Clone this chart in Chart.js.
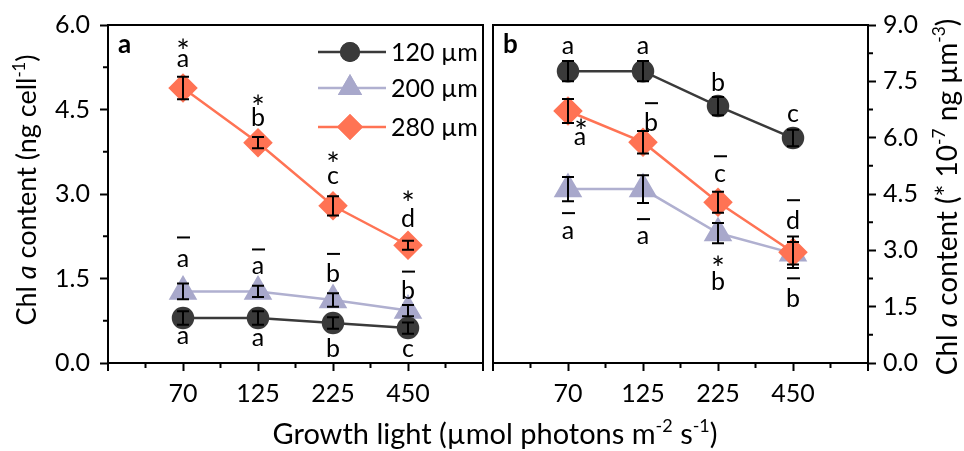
<!DOCTYPE html>
<html><head><meta charset="utf-8">
<script src="https://cdn.jsdelivr.net/npm/chart.js@4/dist/chart.umd.min.js"></script>
<style>
html,body{margin:0;padding:0;background:#fff;}
#wrap{position:relative;width:964px;height:451px;background:#fff;}
canvas{position:absolute;left:0;top:0;}
</style></head><body>
<div id="wrap"><canvas id="ca" width="964" height="451"></canvas><canvas id="cb" width="964" height="451"></canvas></div>
<script>
// ---------------- data ----------------
const categories = ['70', '125', '225', '450'];
const seriesNames = ['120 µm', '200 µm', '280 µm'];
const yTicksA = [0, 1.5, 3.0, 4.5, 6.0];
const yTicksB = [0, 1.5, 3.0, 4.5, 6.0, 7.5, 9.0];

// panel a: Chl a content (ng cell-1)
const a120 = [0.80, 0.80, 0.71, 0.62];
const a200 = [1.27, 1.27, 1.12, 0.93];
const a280 = [4.88, 3.91, 2.79, 2.09];
const a120Err = [0.12, 0.12, 0.10, 0.10];
const a200Err = [0.14, 0.10, 0.12, 0.10];
const a280Err = [0.20, 0.10, 0.17, 0.08];

// panel b: Chl a content (* 10^-7 ng µm-3)
const b120 = [7.77, 7.77, 6.84, 5.99];
const b200 = [4.63, 4.63, 3.46, 2.92];
const b280 = [6.71, 5.88, 4.28, 2.95];
const b120Err = [0.27, 0.27, 0.24, 0.22];
const b200Err = [0.32, 0.37, 0.27, 0.30];
const b280Err = [0.32, 0.30, 0.28, 0.42];

// significance letters
const a120Letters = ['a', 'a', 'b', 'c'];
const a200Letters = ['a', 'a', 'b', 'b'];
const a280Letters = ['a', 'b', 'c', 'd'];
const b120Letters = ['a', 'a', 'b', 'c'];
const b200Letters = ['a', 'a', 'b', 'b'];
const b280Letters = ['a', 'b', 'c', 'd'];

// ---------------- styles ----------------
const FONT = 'Lato, "Open Sans", sans-serif';
const C120 = '#3a3a3a', C200 = '#a8a8cb', C280 = '#ff7354';
const L200 = '#b0b0d0';

// annotation layout: [datasetIndex, pointIndex, kind, dx, dy] (pixel offsets from point)
const annotLayoutA = [
  [2,0,'star',0,-45],[2,0,'letter',0,-28],
  [2,1,'star',0,-43],[2,1,'letter',0,-26],
  [2,2,'star',0,-49],[2,2,'letter',0,-28],
  [2,3,'star',0,-50],[2,3,'letter',0,-28],
  [1,0,'dash',0,-54],[1,0,'letter',0,-31],
  [1,1,'dash',0,-42],[1,1,'letter',0,-24],
  [1,2,'dash',0,-46],[1,2,'letter',0,-27],
  [1,3,'dash',0,-39],[1,3,'letter',0,-21],
  [0,0,'letter',0,20],[0,1,'letter',0,22],[0,2,'letter',0,24],[0,3,'letter',0,22]
];
const annotLayoutB = [
  [0,0,'letter',0,-24],[0,1,'letter',0,-24],[0,2,'letter',0,-25],[0,3,'letter',0,-23],
  [2,0,'star',13,12],[2,0,'letter',12,27],
  [2,1,'dash',8,-39],[2,1,'letter',8,-21],
  [2,2,'dash',2,-46],[2,2,'letter',2,-27],
  [2,3,'dash',0,-52],[2,3,'letter',0,-33],
  [1,0,'dash',0,24],[1,0,'letter',0,43],
  [1,1,'dash',0,30],[1,1,'letter',0,48],
  [1,2,'star',0,27],[1,2,'letter',0,47],
  [1,3,'dash',0,25],[1,3,'letter',0,44]
];

function drawRich(ctx, segs, x, y, size, rot) {
  ctx.save();
  ctx.translate(x, y);
  ctx.rotate(rot);
  let total = 0;
  const parts = segs.map(s => {
    const fs = s.sup ? size * 0.62 : size;
    const font = (s.it ? 'italic ' : '') + fs + 'px ' + FONT;
    ctx.font = font;
    const w = ctx.measureText(s.t).width;
    total += w;
    return { s, font, w };
  });
  let cx = -total / 2;
  ctx.textBaseline = 'alphabetic';
  ctx.textAlign = 'left';
  ctx.fillStyle = '#000';
  parts.forEach(p => {
    ctx.font = p.font;
    ctx.fillText(p.s.t, cx, p.s.sup ? -size * 0.08 : size * 0.35);
    cx += p.w;
  });
  ctx.restore();
}

function centeredText(ctx, txt, cx, cy, font) {
  ctx.font = font;
  const m = ctx.measureText(txt);
  ctx.textAlign = 'center';
  ctx.textBaseline = 'alphabetic';
  ctx.fillText(txt, cx, cy + (m.actualBoundingBoxAscent - m.actualBoundingBoxDescent) / 2);
}

const panelPlugin = {
  id: 'panelDeco',
  afterDatasetsDraw(chart, args, opts) {
    const ctx = chart.ctx;
    const xs = chart.scales.x, ys = chart.scales.y;
    // error bars
    ctx.save();
    ctx.strokeStyle = '#000';
    ctx.lineWidth = 2;
    chart.data.datasets.forEach(ds => {
      ds.data.forEach((p, i) => {
        const e = ds.err[i];
        const px = xs.getPixelForValue(p.x);
        const y1 = ys.getPixelForValue(p.y + e), y2 = ys.getPixelForValue(p.y - e);
        ctx.beginPath();
        ctx.moveTo(px, y1); ctx.lineTo(px, y2);
        ctx.moveTo(px - 6, y1); ctx.lineTo(px + 6, y1);
        ctx.moveTo(px - 6, y2); ctx.lineTo(px + 6, y2);
        ctx.stroke();
      });
    });
    // annotations
    ctx.fillStyle = '#000';
    opts.layout.forEach(([di, pi, kind, dx, dy]) => {
      const ds = chart.data.datasets[di];
      const p = ds.data[pi];
      const px = xs.getPixelForValue(p.x) + dx;
      const py = ys.getPixelForValue(p.y) + dy;
      if (kind === 'letter') {
        centeredText(ctx, ds.letters[pi], px, py, '25px ' + FONT);
      } else if (kind === 'star') {
        centeredText(ctx, '*', px, py, '32px ' + FONT);
      } else {
        ctx.beginPath();
        ctx.moveTo(px - 6, py); ctx.lineTo(px + 7, py);
        ctx.stroke();
      }
    });
    ctx.restore();
  },
  afterDraw(chart, args, opts) {
    const ctx = chart.ctx;
    const a = chart.chartArea;
    const xs = chart.scales.x, ys = chart.scales.y;
    ctx.save();
    ctx.strokeStyle = '#000';
    ctx.lineWidth = 2;
    ctx.strokeRect(a.left, a.top, a.right - a.left, a.bottom - a.top);
    ctx.beginPath();
    // corner extensions
    ctx.moveTo(a.left, a.bottom); ctx.lineTo(a.left, a.bottom + 8);
    ctx.moveTo(a.right, a.bottom); ctx.lineTo(a.right, a.bottom + 8);
    // minor x ticks
    for (let v = 0.5; v < 5; v += 1) {
      const px = xs.getPixelForValue(v);
      ctx.moveTo(px, a.bottom); ctx.lineTo(px, a.bottom + 5);
    }
    // minor y ticks
    const yMax = ys.max;
    for (let v = 0.75; v < yMax; v += 1.5) {
      const py = ys.getPixelForValue(v);
      if (opts.side === 'left') { ctx.moveTo(a.left, py); ctx.lineTo(a.left - 5, py); }
      else { ctx.moveTo(a.right, py); ctx.lineTo(a.right + 5, py); }
    }
    ctx.stroke();

    // panel label
    ctx.fillStyle = '#000';
    ctx.font = 'bold 26px ' + FONT;
    ctx.textAlign = 'left';
    ctx.textBaseline = 'alphabetic';
    ctx.fillText(opts.label, a.left + 10, a.top + 28);

    // axis titles
    if (opts.side === 'left') {
      drawRich(ctx, [{t:'Chl '},{t:'a',it:true},{t:' content (ng cell'},{t:'-1',sup:true},{t:')'}], 27, 190, 27, -Math.PI/2);
      // legend
      const rows = [52, 88, 127];
      chart.data.datasets.forEach((ds, i) => {
        const y = rows[i];
        ctx.strokeStyle = ds.borderColor;
        ctx.lineWidth = 2.5;
        ctx.beginPath(); ctx.moveTo(318, y); ctx.lineTo(386, y); ctx.stroke();
        ctx.fillStyle = ds.pointBackgroundColor;
        Chart.helpers.drawPoint(ctx, {pointStyle: ds.pointStyle, radius: ds.pointRadius, rotation: 0, borderWidth: 0}, 350, y);
        ctx.fill();
        ctx.fillStyle = '#000';
        ctx.font = '25px ' + FONT;
        ctx.textAlign = 'left';
        ctx.textBaseline = 'middle';
        ctx.fillText(seriesNames[i], 391, y + 1);
      });
    } else {
      drawRich(ctx, [{t:'Chl '},{t:'a',it:true},{t:' content (* 10'},{t:'-7',sup:true},{t:' ng µm'},{t:'-3',sup:true},{t:')'}], 947, 197, 28, -Math.PI/2);
      drawRich(ctx, [{t:'Growth light (µmol photons m'},{t:'-2',sup:true},{t:' s'},{t:'-1',sup:true},{t:')'}], 495, 434, 29, 0);
    }
    ctx.restore();
  }
};

function mkDatasets(v120, v200, v280, e120, e200, e280, l120, l200, l280) {
  const pts = arr => arr.map((v, i) => ({ x: i + 1, y: v }));
  return [
    { label: seriesNames[0], data: pts(v120), err: e120, letters: l120, borderColor: C120, pointBackgroundColor: C120, pointBorderColor: C120, pointStyle: 'circle', pointRadius: 10, borderWidth: 2.5, order: 1 },
    { label: seriesNames[1], data: pts(v200), err: e200, letters: l200, borderColor: L200, pointBackgroundColor: C200, pointBorderColor: C200, pointStyle: 'triangle', pointRadius: 14, borderWidth: 2.5, order: 2 },
    { label: seriesNames[2], data: pts(v280), err: e280, letters: l280, borderColor: C280, pointBackgroundColor: C280, pointBorderColor: C280, pointStyle: 'rectRot', pointRadius: 13, borderWidth: 2.5, order: 0 }
  ];
}

function mkOptions(side, yMax, yTicks, label, layout) {
  return {
    responsive: false,
    animation: false,
    devicePixelRatio: 1,
    layout: { padding: side === 'left' ? { left: 0, right: 481, top: 25, bottom: 0 } : { left: 493, right: 0, top: 25, bottom: 0 } },
    plugins: { legend: { display: false }, tooltip: { enabled: false }, panelDeco: { side, label, layout } },
    elements: { point: { borderWidth: 0, hoverRadius: 10 }, line: { tension: 0 } },
    scales: {
      x: {
        type: 'linear', min: 0, max: 5, position: 'bottom',
        afterBuildTicks: s => { s.ticks = categories.map((c, i) => ({ value: i + 1 })); },
        afterFit: s => { s.height = 88; },
        ticks: { callback: v => categories[v - 1], font: { family: FONT, size: 25 }, color: '#000', padding: 8, maxRotation: 0, autoSkip: false },
        grid: { drawOnChartArea: false, drawTicks: true, tickLength: 8, tickWidth: 2, tickColor: '#000' },
        border: { display: false }
      },
      y: {
        type: 'linear', min: 0, max: yMax, position: side,
        afterBuildTicks: s => { s.ticks = yTicks.map(v => ({ value: v })); },
        afterFit: s => { s.width = side === 'left' ? 108 : 96; },
        ticks: { callback: v => v.toFixed(1), font: { family: FONT, size: 25 }, color: '#000', padding: side === 'left' ? 10 : 7 },
        grid: { drawOnChartArea: false, drawTicks: true, tickLength: 8, tickWidth: 2, tickColor: '#000' },
        border: { display: false }
      }
    }
  };
}

new Chart(document.getElementById('ca'), {
  type: 'line',
  data: { datasets: mkDatasets(a120, a200, a280, a120Err, a200Err, a280Err, a120Letters, a200Letters, a280Letters) },
  options: mkOptions('left', 6, yTicksA, 'a', annotLayoutA),
  plugins: [panelPlugin]
});
new Chart(document.getElementById('cb'), {
  type: 'line',
  data: { datasets: mkDatasets(b120, b200, b280, b120Err, b200Err, b280Err, b120Letters, b200Letters, b280Letters) },
  options: mkOptions('right', 9, yTicksB, 'b', annotLayoutB),
  plugins: [panelPlugin]
});
</script>
</body></html>
